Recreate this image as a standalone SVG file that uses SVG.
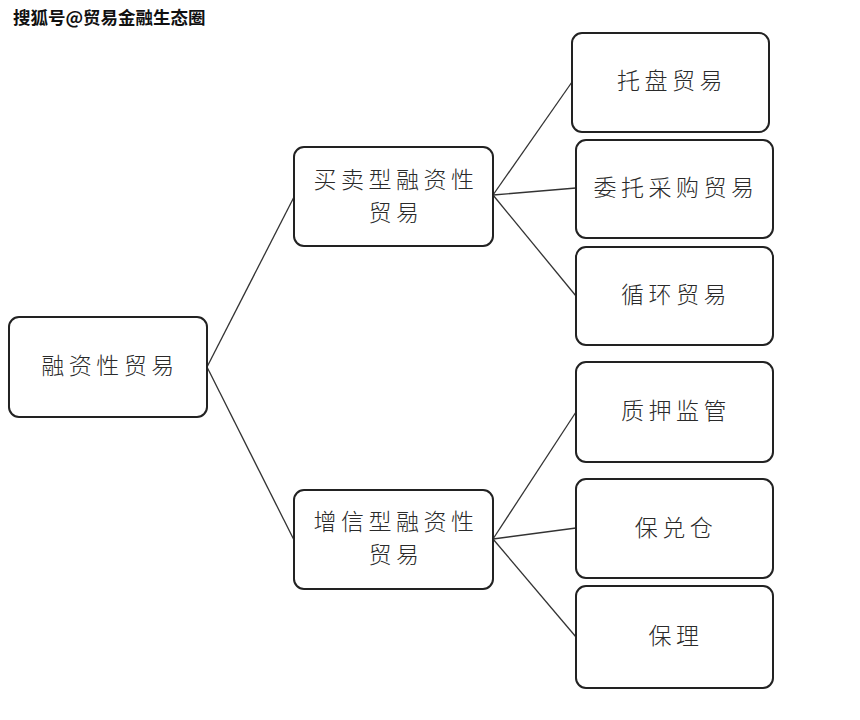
<svg xmlns="http://www.w3.org/2000/svg" width="860" height="720" viewBox="0 0 860 720">
<style>
.box{fill:#fff;stroke:#222;stroke-width:2}
.lbl{font-family:"Noto Sans CJK SC","Noto Sans",sans-serif;font-size:23px;font-weight:300;fill:#2a2a2a;letter-spacing:4.5px;text-anchor:middle;dominant-baseline:central}
.link{stroke:#333;stroke-width:1.3;fill:none}
.wm{font-family:"Noto Sans CJK SC","Liberation Sans",sans-serif;font-size:17.5px;font-weight:700;fill:#111;stroke:#fff;stroke-width:0.5;paint-order:stroke}
</style>
<rect width="860" height="720" fill="#fff"/>
<text class="wm" x="13" y="24">搜狐号@贸易金融生态圈</text>
<g id="connectors">
<line class="link" x1="207" y1="367" x2="294" y2="197"/>
<line class="link" x1="207" y1="367" x2="294" y2="540"/>
<line class="link" x1="493" y1="195" x2="572" y2="82"/>
<line class="link" x1="493" y1="195" x2="576" y2="188"/>
<line class="link" x1="493" y1="195" x2="576" y2="296"/>
<line class="link" x1="493" y1="539" x2="576" y2="412"/>
<line class="link" x1="493" y1="539" x2="576" y2="528"/>
<line class="link" x1="493" y1="539" x2="576" y2="637"/>
</g>
<g id="root">
<rect class="box" x="9" y="317" width="198" height="100" rx="10"/>
<text class="lbl" x="110" y="364">融资性贸易</text>
</g>
<g id="buy">
<rect class="box" x="294" y="147" width="199" height="99" rx="10"/>
<text class="lbl" x="396" y="178">买卖型融资性</text>
<text class="lbl" x="396" y="211">贸易</text>
</g>
<g id="credit">
<rect class="box" x="294" y="490" width="199" height="99" rx="10"/>
<text class="lbl" x="396" y="520">增信型融资性</text>
<text class="lbl" x="396" y="553">贸易</text>
</g>
<g id="tuopan">
<rect class="box" x="572" y="33" width="197" height="99" rx="10"/>
<text class="lbl" x="672" y="79">托盘贸易</text>
</g>
<g id="weituo">
<rect class="box" x="576" y="140" width="197" height="98" rx="10"/>
<text class="lbl" x="676" y="186">委托采购贸易</text>
</g>
<g id="xunhuan">
<rect class="box" x="576" y="247" width="197" height="98" rx="10"/>
<text class="lbl" x="676" y="293">循环贸易</text>
</g>
<g id="zhiya">
<rect class="box" x="576" y="362" width="197" height="100" rx="10"/>
<text class="lbl" x="676" y="409">质押监管</text>
</g>
<g id="baoduicang">
<rect class="box" x="576" y="479" width="197" height="99" rx="10"/>
<text class="lbl" x="676" y="526">保兑仓</text>
</g>
<g id="baoli">
<rect class="box" x="576" y="586" width="197" height="102" rx="10"/>
<text class="lbl" x="676" y="634">保理</text>
</g>
</svg>
